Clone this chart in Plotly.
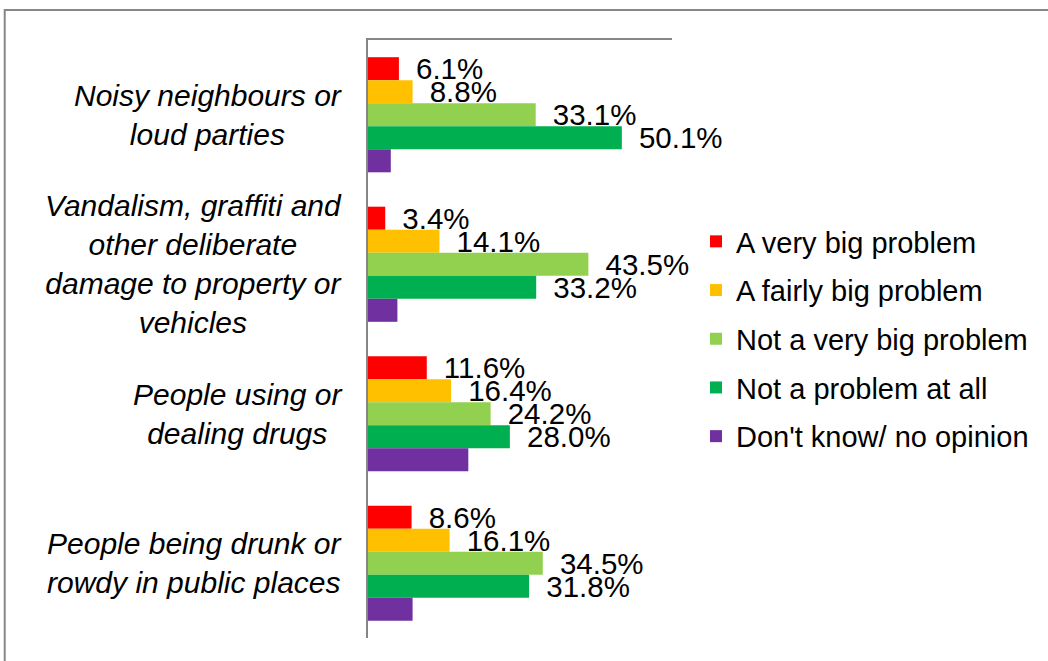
import plotly.graph_objects as go

categories = [
    "Noisy neighbours or<br>loud parties",
    "Vandalism, graffiti and<br>other deliberate<br>damage to property or<br>vehicles",
    "People using or<br>dealing drugs",
    "People being drunk or<br>rowdy in public places",
]
series_names = [
    "A very big problem",
    "A fairly big problem",
    "Not a very big problem",
    "Not a problem at all",
    "Don't know/ no opinion",
]
very_big = [6.1, 3.4, 11.6, 8.6]
fairly_big = [8.8, 14.1, 16.4, 16.1]
not_very_big = [33.1, 43.5, 24.2, 34.5]
not_at_all = [50.1, 33.2, 28.0, 31.8]
dont_know = [4.5, 5.8, 19.8, 8.8]
series_values = [very_big, fairly_big, not_very_big, not_at_all, dont_know]
colors = ["#FF0000", "#FFC000", "#92D050", "#00B050", "#7030A0"]
show_labels = [True, True, True, True, False]

FONT = "Liberation Sans, Arial, sans-serif"

fig = go.Figure()
for i, (name, vals, col, lab) in enumerate(zip(series_names, series_values, colors, show_labels)):
    fig.add_trace(go.Bar(
        y=categories, x=vals, name=name, orientation="h",
        marker=dict(color=col, line=dict(width=0)),
        texttemplate="\u00a0\u2009%{x:.1f}%" if lab else None,
        textposition="outside" if lab else "none",
        textfont=dict(family=FONT, size=29.5, color="black"),
        constraintext="none", cliponaxis=False,
        legendgroup=f"g{i}",
        hoverinfo="skip",
    ))

for cat in categories:
    fig.add_annotation(
        x=0, y=cat, xref="x", yref="y", text=f"<i>{cat}</i>",
        showarrow=False, xanchor="right", align="center",
        xshift=-24, font=dict(family=FONT, size=30, color="black"),
    )

# outer chart border (top and left visible)
fig.add_shape(type="rect", xref="paper", yref="paper",
              x0=-1.195, x1=3.0, y0=-1.0, y1=1.0502,
              line=dict(color="#878787", width=2), fillcolor="rgba(0,0,0,0)",
              layer="below")

fig.update_layout(
    width=1048, height=661,
    margin=dict(l=368, r=376, t=40, b=23),
    paper_bgcolor="white", plot_bgcolor="white",
    barmode="group", bargap=0.23, bargroupgap=0,
    font=dict(family=FONT, size=28, color="black"),
    showlegend=True,
    legend=dict(
        x=1.079, xanchor="left", y=0.5, yanchor="middle",
        font=dict(family=FONT, size=29, color="black"),
        traceorder="grouped", tracegroupgap=8,
        bgcolor="rgba(0,0,0,0)",
    ),
    xaxis=dict(range=[0, 60], side="top", showline=True, linecolor="#868686",
               linewidth=2, showticklabels=False, ticks="", showgrid=False,
               zeroline=False, fixedrange=True),
    yaxis=dict(autorange="reversed", showline=True, linecolor="#868686",
               linewidth=2, showticklabels=False, ticks="", showgrid=False,
               zeroline=False, fixedrange=True),
)

fig.write_html("out.html")
